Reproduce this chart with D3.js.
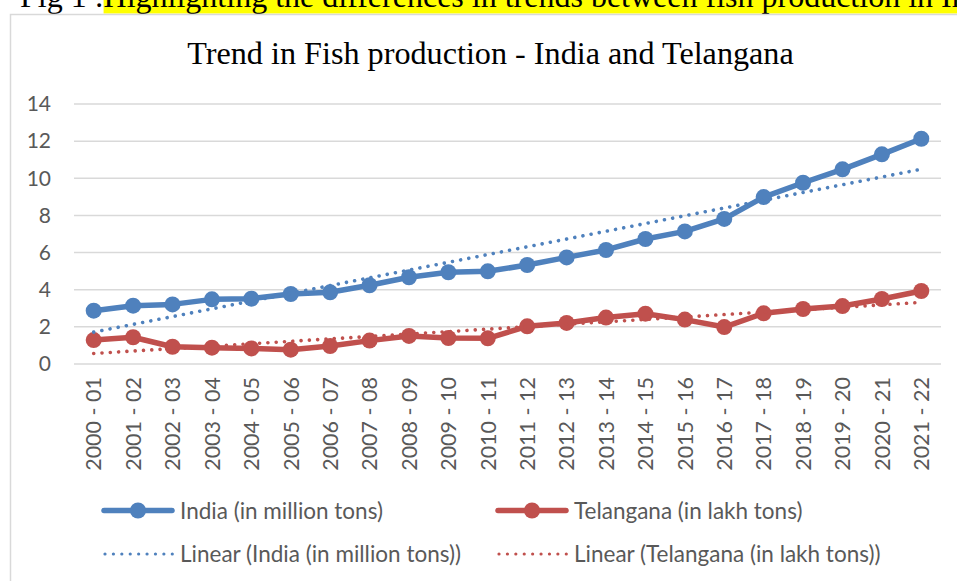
<!DOCTYPE html>
<html>
<head>
<meta charset="utf-8">
<script src="https://cdn.jsdelivr.net/npm/d3@7"></script>
<style>
  html, body { margin: 0; padding: 0; background: #ffffff; overflow: hidden; }
  svg { display: block; }
</style>
</head>
<body>
<svg id="chart" width="957" height="581"></svg>
<script>
// ---------- data ----------
const categories = ["2000 - 01","2001 - 02","2002 - 03","2003 - 04","2004 - 05","2005 - 06","2006 - 07","2007 - 08","2008 - 09","2009 - 10","2010 - 11","2011 - 12","2012 - 13","2013 - 14","2014 - 15","2015 - 16","2016 - 17","2017 - 18","2018 - 19","2019 - 20","2020 - 21","2021 - 22"];
const india = [2.87,3.14,3.21,3.48,3.52,3.77,3.86,4.24,4.67,4.94,4.99,5.33,5.74,6.14,6.73,7.14,7.81,8.99,9.76,10.48,11.29,12.13];
const telangana = [1.29,1.44,0.93,0.88,0.84,0.77,0.97,1.26,1.51,1.40,1.38,2.03,2.21,2.50,2.71,2.39,1.99,2.73,2.96,3.12,3.50,3.93];
const yTicks = [0,2,4,6,8,10,12,14];
const seriesNames = ["India (in million tons)", "Telangana (in lakh tons)"];
const trendNames = ["Linear (India (in million tons))", "Linear (Telangana (in lakh tons))"];
const titleText = "Trend in Fish production - India and Telangana";
const captionLead = "Fig 1 :";
const captionHighlight = "Highlighting the differences in trends between fish production in India and Telangana";

// ---------- style ----------
const colors = ["#4F81BD", "#C0504D"];
const gridColor = "#D9D9D9";
const textColor = "#595959";
const axisFont = "Lato, 'Noto Sans', sans-serif";
const serifFont = "'Liberation Serif', 'DejaVu Serif', serif";

const svg = d3.select("#chart");

// caption (cut off at top, as in the source page)
const cap = svg.append("g");
const capRect = cap.append("rect").attr("fill", "#FFFF00");
const capText = cap.append("text")
  .attr("x", 20).attr("y", 7)
  .style("font-family", serifFont).style("font-size", "32px").attr("fill", "#000");
const t1 = capText.append("tspan").text(captionLead);
const t2 = capText.append("tspan").text(captionHighlight);
const leadW = t1.node().getComputedTextLength();
capRect.attr("x", 20 + leadW).attr("y", -30).attr("width", 2000).attr("height", 43.5);

// chart frame
svg.append("rect")
  .attr("x", 10.5).attr("y", 14.5).attr("width", 1200).attr("height", 700)
  .attr("fill", "#fff").attr("stroke", gridColor).attr("stroke-width", 1.5);

// title
svg.append("text")
  .attr("x", 490.5).attr("y", 63.5)
  .attr("text-anchor", "middle")
  .style("font-family", serifFont).style("font-size", "32.2px")
  .attr("fill", "#000")
  .text(titleText);

// scales
const x = d3.scaleBand().domain(categories).range([74, 941]).padding(0);
const y = d3.scaleLinear().domain([0, 14]).range([364, 104]);
const cx = d => x(d) + x.bandwidth() / 2;

// gridlines
svg.append("g").selectAll("line").data(yTicks).join("line")
  .attr("x1", 74).attr("x2", 941)
  .attr("y1", d => y(d)).attr("y2", d => y(d))
  .attr("stroke", gridColor).attr("stroke-width", 1.5);

// y axis labels
const yAxis = svg.append("g").attr("transform", "translate(66,0)")
  .call(d3.axisLeft(y).tickValues(yTicks).tickSize(0).tickPadding(15));
yAxis.select(".domain").remove();
yAxis.selectAll("text")
  .style("font-family", axisFont).style("font-size", "21px").attr("fill", textColor);

// x axis labels
const xAxis = svg.append("g").attr("transform", "translate(0,364)")
  .call(d3.axisBottom(x).tickSize(0));
xAxis.select(".domain").remove();
xAxis.selectAll("text")
  .style("font-family", axisFont).style("font-size", "21.5px").attr("fill", textColor)
  .attr("text-anchor", "end")
  .attr("transform", "rotate(-90)")
  .attr("x", -13).attr("y", 0).attr("dy", "0.36em");

// series
const allSeries = [india, telangana];
const line = d3.line().x((d, i) => cx(categories[i])).y(d => y(d));

allSeries.forEach((vals, s) => {
  svg.append("path").datum(vals)
    .attr("d", line).attr("fill", "none")
    .attr("stroke", colors[s]).attr("stroke-width", 5.5)
    .attr("stroke-linejoin", "round").attr("stroke-linecap", "round");
  svg.append("g").selectAll("circle").data(vals).join("circle")
    .attr("cx", (d, i) => cx(categories[i])).attr("cy", d => y(d))
    .attr("r", 8).attr("fill", colors[s]);
});

// linear trendlines (least squares, as the spreadsheet does)
function linFit(vals) {
  const n = vals.length;
  const xs = vals.map((d, i) => i + 1);
  const mx = d3.mean(xs), my = d3.mean(vals);
  let num = 0, den = 0;
  xs.forEach((xv, i) => { num += (xv - mx) * (vals[i] - my); den += (xv - mx) * (xv - mx); });
  const b = num / den, a = my - b * mx;
  return [a + b * 1, a + b * n];
}
allSeries.forEach((vals, s) => {
  const [y0, y1] = linFit(vals);
  svg.append("line")
    .attr("x1", cx(categories[0])).attr("y1", y(y0))
    .attr("x2", cx(categories[categories.length - 1])).attr("y2", y(y1))
    .attr("stroke", colors[s]).attr("stroke-width", 3.6)
    .attr("stroke-linecap", "round").attr("stroke-dasharray", "0.01 8.3");
});

// legend
const legendItems = [
  { name: seriesNames[0], color: colors[0], type: "series", x: 103, y: 510.5 },
  { name: seriesNames[1], color: colors[1], type: "series", x: 497, y: 510.5 },
  { name: trendNames[0], color: colors[0], type: "trend", x: 103, y: 554 },
  { name: trendNames[1], color: colors[1], type: "trend", x: 497, y: 554 }
];
const lg = svg.append("g").selectAll("g").data(legendItems).join("g")
  .attr("transform", d => `translate(${d.x},${d.y})`);
lg.each(function(d) {
  const g = d3.select(this);
  if (d.type === "series") {
    g.append("line").attr("x1", 1).attr("x2", 69).attr("y1", 0).attr("y2", 0)
      .attr("stroke", d.color).attr("stroke-width", 5.5).attr("stroke-linecap", "round");
    g.append("circle").attr("cx", 35).attr("cy", 0).attr("r", 8).attr("fill", d.color);
  } else {
    g.append("line").attr("x1", 2).attr("x2", 70).attr("y1", 0).attr("y2", 0)
      .attr("stroke", d.color).attr("stroke-width", 3.2)
      .attr("stroke-linecap", "round").attr("stroke-dasharray", "0.01 8.4");
  }
  g.append("text").attr("x", 77).attr("y", 0).attr("dy", "0.36em")
    .style("font-family", axisFont).style("font-size", "22.5px").attr("fill", textColor)
    .text(d.name);
});
</script>
</body>
</html>
